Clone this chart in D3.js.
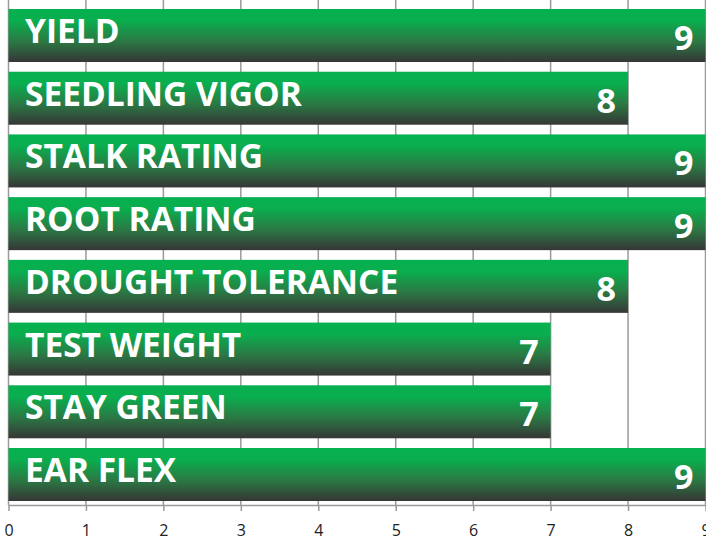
<!DOCTYPE html>
<html>
<head>
<meta charset="utf-8">
<script src="https://cdn.jsdelivr.net/npm/d3@7"></script>
<style>
  body { margin: 0; background: #fff; }
  svg { display: block; }
</style>
</head>
<body>
<div id="chart"></div>
<script>
const traits = ["YIELD", "SEEDLING VIGOR", "STALK RATING", "ROOT RATING",
  "DROUGHT TOLERANCE", "TEST WEIGHT", "STAY GREEN", "EAR FLEX"];
const scores = [9, 8, 9, 9, 8, 7, 7, 9];
const ticks = [0, 1, 2, 3, 4, 5, 6, 7, 8, 9];

const width = 706;
const height = 540;
const plotLeft = 8.5, plotRight = 705.5, plotTop = 0, plotBottom = 505;

const svg = d3.select("#chart")
  .append("svg")
  .attr("width", width)
  .attr("height", height);

const defs = svg.append("defs");
const grad = defs.append("linearGradient")
  .attr("id", "barGrad")
  .attr("x1", 0).attr("y1", 0).attr("x2", 0).attr("y2", 1);
grad.append("stop").attr("offset", "0%").attr("stop-color", "#06b050");
grad.append("stop").attr("offset", "22%").attr("stop-color", "#0aae4e");
grad.append("stop").attr("offset", "60%").attr("stop-color", "#2a7a44");
grad.append("stop").attr("offset", "100%").attr("stop-color", "#363636");

const x = d3.scaleLinear().domain([0, 9]).range([plotLeft, plotRight]);

const y = d3.scaleBand()
  .domain(traits)
  .range([4.3, 505.7])
  .paddingInner(0.155)
  .paddingOuter(0.075);

// gridlines
svg.append("g")
  .selectAll("line")
  .data(ticks)
  .enter()
  .append("line")
  .attr("x1", (d) => x(d))
  .attr("x2", (d) => x(d))
  .attr("y1", plotTop)
  .attr("y2", plotBottom)
  .attr("stroke", "#9a9a9a")
  .attr("stroke-width", 1.5);

// bars
const rows = svg.append("g")
  .selectAll("g")
  .data(traits)
  .enter()
  .append("g")
  .attr("transform", (d) => `translate(0,${y(d)})`);

rows.append("rect")
  .attr("x", x(0))
  .attr("y", 0)
  .attr("width", (d, i) => x(scores[i]) - x(0))
  .attr("height", y.bandwidth())
  .attr("fill", "url(#barGrad)");

rows.append("text")
  .attr("x", x(0) + 16.5)
  .attr("y", 34)
  .attr("fill", "#fff")
  .style("font-family", "'Open Sans', sans-serif")
  .style("font-weight", "bold")
  .style("font-size", "33.5px")
  .text((d) => d);

rows.append("text")
  .attr("x", (d, i) => x(scores[i]) - 12)
  .attr("y", 41)
  .attr("text-anchor", "end")
  .attr("fill", "#fff")
  .style("font-family", "'Open Sans', sans-serif")
  .style("font-weight", "bold")
  .style("font-size", "34px")
  .text((d, i) => scores[i]);

// x axis
const axis = svg.append("g")
  .attr("transform", `translate(0,${plotBottom})`)
  .call(d3.axisBottom(x).tickValues(ticks).tickSize(6).tickSizeOuter(0).tickPadding(14));

axis.select(".domain").attr("stroke", "#9a9a9a").attr("stroke-width", 1.5);
axis.selectAll(".tick line").attr("stroke", "#9a9a9a").attr("stroke-width", 1.5);
axis.selectAll(".tick text")
  .attr("fill", "#222")
  .style("font-family", "'Open Sans', sans-serif")
  .style("font-size", "16px");
</script>
</body>
</html>
